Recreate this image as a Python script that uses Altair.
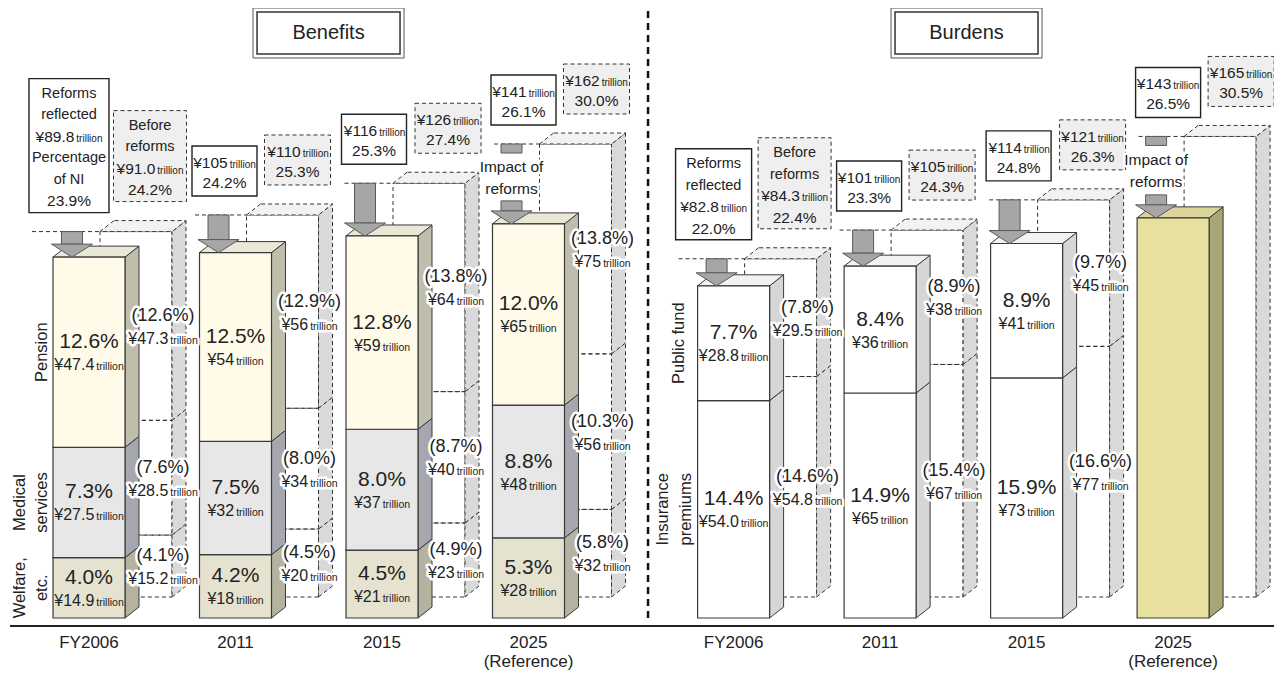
import altair as alt
import pandas as pd

# ---------------- data ----------------
years = ["FY2006", "2011", "2015", "2025"]
year_note = ["", "", "", "(Reference)"]

# Benefits, reforms reflected (% of NI, trillion yen)
ben_welfare_pct = [4.0, 4.2, 4.5, 5.3]
ben_welfare_yen = [14.9, 18, 21, 28]
ben_medical_pct = [7.3, 7.5, 8.0, 8.8]
ben_medical_yen = [27.5, 32, 37, 48]
ben_pension_pct = [12.6, 12.5, 12.8, 12.0]
ben_pension_yen = [47.4, 54, 59, 65]
ben_total_pct = [23.9, 24.2, 25.3, 26.1]
ben_total_yen = [89.8, 105, 116, 141]
# Benefits, before reforms
ben_pre_welfare_pct = [4.1, 4.5, 4.9, 5.8]
ben_pre_welfare_yen = [15.2, 20, 23, 32]
ben_pre_medical_pct = [7.6, 8.0, 8.7, 10.3]
ben_pre_medical_yen = [28.5, 34, 40, 56]
ben_pre_pension_pct = [12.6, 12.9, 13.8, 13.8]
ben_pre_pension_yen = [47.3, 56, 64, 75]
ben_pre_total_pct = [24.2, 25.3, 27.4, 30.0]
ben_pre_total_yen = [91.0, 110, 126, 162]
# Burdens, reforms reflected
bur_premium_pct = [14.4, 14.9, 15.9, None]
bur_premium_yen = [54.0, 65, 73, None]
bur_public_pct = [7.7, 8.4, 8.9, None]
bur_public_yen = [28.8, 36, 41, None]
bur_total_pct = [22.0, 23.3, 24.8, 26.5]
bur_total_yen = [82.8, 101, 114, 143]
# Burdens, before reforms
bur_pre_premium_pct = [14.6, 15.4, 16.6, None]
bur_pre_premium_yen = [54.8, 67, 77, None]
bur_pre_public_pct = [7.8, 8.9, 9.7, None]
bur_pre_public_yen = [29.5, 38, 45, None]
bur_pre_total_pct = [22.4, 24.3, 26.3, 30.5]
bur_pre_total_yen = [84.3, 105, 121, 165]

panels = [
    dict(title="Benefits", pos=[0, 1, 2, 3], title_pos=1.635,
         style=["welfare", "medical", "pension"],
         pct=[ben_welfare_pct, ben_medical_pct, ben_pension_pct],
         yen=[ben_welfare_yen, ben_medical_yen, ben_pension_yen],
         pre_pct=[ben_pre_welfare_pct, ben_pre_medical_pct, ben_pre_pension_pct],
         pre_yen=[ben_pre_welfare_yen, ben_pre_medical_yen, ben_pre_pension_yen],
         tot_pct=ben_total_pct, tot_yen=ben_total_yen,
         pre_tot_pct=ben_pre_total_pct, pre_tot_yen=ben_pre_total_yen,
         seg_names=[["Welfare,", "etc."], ["Medical", "services"], ["Pension"]],
         name_dx2=(-33, -11), name_dx1=-11,
         first_solid=["Reforms", "reflected", "YEN", "Percentage", "of NI", "PCT"],
         first_solid_w=80),
    dict(title="Burdens", pos=[4.4, 5.4, 6.4, 7.4], title_pos=5.99,
         style=["burden", "burden"],
         pct=[bur_premium_pct, bur_public_pct],
         yen=[bur_premium_yen, bur_public_yen],
         pre_pct=[bur_pre_premium_pct, bur_pre_public_pct],
         pre_yen=[bur_pre_premium_yen, bur_pre_public_yen],
         tot_pct=bur_total_pct, tot_yen=bur_total_yen,
         pre_tot_pct=bur_pre_total_pct, pre_tot_yen=bur_pre_total_yen,
         seg_names=[["Insurance", "premiums"], ["Public fund"]],
         name_dx2=(-35, -12), name_dx1=-19,
         first_solid=["Reforms", "reflected", "YEN", "PCT"],
         first_solid_w=76),
]

# ---------------- layout / style ----------------
W, H = 1266, 662
PX = 146.5   # pixels per category step
PY = 15.1    # pixels per 1 % of NI


def hx(p):
    return p / PX


def hy(p):
    return p / PY


XMIN = -81 / PX
XMAX = XMIN + W / PX
YMAX = 610 / PY
YMIN = YMAX - H / PY

SANS = "Liberation Sans, Arial, Helvetica, sans-serif"
TXT = "#222222"
EDGE = "#3a3a3a"

STYLE = {
    "welfare": ("#E5E2CF", "#B5B39F", "#E8E6D4"),
    "medical": ("#E7E7E7", "#A6A6AE", "#EEEEEE"),
    "pension": ("#FFFBE8", "#BFBEAD", "#E9E7D5"),
    "burden": ("#FFFFFF", "#D6D6D6", "#F2F2F2"),
    "highlight": ("#E8E09E", "#A9A676", "#DBD49B"),
}
GHOST_SIDE = "#D9D9D9"
GHOST_TOP = "#F2F2F2"

BAR_HALF = 36      # px
DEPTH_X, DEPTH_Y = 14, 11
GHOST_X, GHOST_Y = 47, 21
solid_dx = [-20, -11, -8, -5]
pre_dx = [61, 62, 66, 68]

W_CH = {"¥": .556, ".": .278, "%": .889, "(": .333, ")": .333}
TRIL_EM = 2.611

rows = {k: [] for k in ["front", "side", "top", "gfront", "gside", "gtop", "gline",
                        "shaft", "head", "bsolid", "bdash", "tbox_out", "tbox_in",
                        "divider", "axis"]}
txt = {k: [] for k in ["c", "r", "ln", "hc", "hr", "hln", "rot", "title", "year"]}


def yen_str(v, k):
    return "¥" + (f"{v:.1f}" if k == 0 else f"{v:.0f}")


def text_w(s, size):
    return sum(W_CH.get(ch, .556) for ch in s) * size


def add_yen(x, y, v, k, sn, st, halo=False):
    s = yen_str(v, k)
    wn = text_w(s, sn)
    wt = TRIL_EM * st
    gap = 2.0
    left = x - hx((wn + gap + wt) / 2)
    split = left + hx(wn)
    txt["hr" if halo else "r"].append(dict(x=split, y=y, text=s, size=sn))
    txt["hln" if halo else "ln"].append(dict(x=split + hx(gap), y=y, text="trillion", size=st))


def add_box(kind, cx, bottom, width, lines, v_yen, v_pct, k):
    n = len(lines)
    hpx = 50 if n == 2 else n * 21.5 + 5
    top = bottom + hy(hpx)
    rows[kind].append(dict(x=cx - hx(width / 2), x2=cx + hx(width / 2), y=bottom, y2=top))
    mid = (top + bottom) / 2 - hy(2)
    sp = 20 if n == 2 else 21.5
    for i, ln in enumerate(lines):
        yy = mid - hy((i - (n - 1) / 2) * sp)
        if ln == "YEN":
            add_yen(cx, yy, v_yen, k, 15.5, 10)
        elif ln == "PCT":
            txt["c"].append(dict(x=cx, y=yy, text=f"{v_pct:.1f}%", size=15.5))
        else:
            txt["c"].append(dict(x=cx, y=yy, text=ln, size=14.5))
    return cx - hx(width / 2)


for pi, p in enumerate(panels):
    # title box
    tc, ty = p["title_pos"], hy(585)
    rows["tbox_out"].append(dict(x=tc - hx(75.5), x2=tc + hx(75.5), y=ty - hy(25), y2=ty + hy(25)))
    rows["tbox_in"].append(dict(x=tc - hx(71.5), x2=tc + hx(71.5), y=ty - hy(21), y2=ty + hy(21)))
    txt["title"].append(dict(x=tc, y=ty, text=p["title"], size=20))

    for k, c in enumerate(p["pos"]):
        L, R = c - hx(BAR_HALF), c + hx(BAR_HALF)
        nseg = len(p["pct"])
        has = p["pct"][0][k] is not None

        # ---------- ghost (before reforms) ----------
        gb = hy(GHOST_Y)
        gL, gR = L + hx(GHOST_X), R + hx(GHOST_X)
        if has:
            gsegs = [(p["pre_pct"][j][k], p["pre_yen"][j][k]) for j in range(nseg)]
        else:
            gsegs = [(p["pre_tot_pct"][k], None)]
        base = gb
        for j, (pc, yv) in enumerate(gsegs):
            y0, y1 = base, base + pc
            if j == len(gsegs) - 1:
                y1 = gb + p["pre_tot_pct"][k]
            gid = f"g{pi}{k}{j}"
            rows["gfront"].append(dict(x=gL, x2=gR, y=y0, y2=y1))
            rows["gside"].append(dict(g=gid, x=gR, y=y0, y2=y1, fill=GHOST_SIDE))
            rows["gside"].append(dict(g=gid, x=gR + hx(DEPTH_X), y=y0 + hy(DEPTH_Y),
                                      y2=y1 + hy(DEPTH_Y), fill=GHOST_SIDE))
            if yv is not None:
                m = (y0 + y1) / 2
                lx = c + hx(74)
                txt["hc"].append(dict(x=lx, y=m + hy(10), text=f"({pc:.1f}%)", size=18))
                add_yen(lx, m - hy(13), yv, k, 16, 10.5, halo=True)
            base = y1
        gtop = gb + p["pre_tot_pct"][k]
        gid = f"gt{pi}{k}"
        rows["gtop"].append(dict(g=gid, y=gtop, x=gL, x2=gR, fill=GHOST_TOP))
        rows["gtop"].append(dict(g=gid, y=gtop + hy(DEPTH_Y), x=gL + hx(DEPTH_X),
                                 x2=gR + hx(DEPTH_X), fill=GHOST_TOP))

        # ---------- main bar ----------
        if has:
            segs = [(p["pct"][j][k], p["yen"][j][k], p["style"][j]) for j in range(nseg)]
        else:
            segs = [(p["tot_pct"][k], None, "highlight")]
        base = 0.0
        for j, (pc, yv, st) in enumerate(segs):
            y0, y1 = base, base + pc
            if j == len(segs) - 1:
                y1 = p["tot_pct"][k]
            fr, sd, tp = STYLE[st]
            gid = f"m{pi}{k}{j}"
            rows["front"].append(dict(x=L, x2=R, y=y0, y2=y1, fill=fr))
            rows["side"].append(dict(g=gid, x=R, y=y0, y2=y1, fill=sd))
            rows["side"].append(dict(g=gid, x=R + hx(DEPTH_X), y=y0 + hy(DEPTH_Y),
                                     y2=y1 + hy(DEPTH_Y), fill=sd))
            m = (y0 + y1) / 2
            if yv is not None:
                txt["c"].append(dict(x=c, y=m + hy(10), text=f"{pc:.1f}%", size=21))
                add_yen(c, m - hy(13), yv, k, 16, 10.5)
            if k == 0 and has:
                names = p["seg_names"][j]
                if len(names) == 2:
                    for nm, dx in zip(names, p["name_dx2"]):
                        txt["rot"].append(dict(x=L + hx(dx), y=m, text=nm, size=16.5))
                else:
                    txt["rot"].append(dict(x=L + hx(p["name_dx1"]), y=m, text=names[0], size=16.5))
            base = y1
            last_top = STYLE[st][2]
        top = p["tot_pct"][k]
        gid = f"t{pi}{k}"
        rows["top"].append(dict(g=gid, y=top, x=L, x2=R, fill=last_top))
        rows["top"].append(dict(g=gid, y=top + hy(DEPTH_Y), x=L + hx(DEPTH_X),
                                x2=R + hx(DEPTH_X), fill=last_top))

        # ---------- labels boxes ----------
        sb = gtop + hy(19)
        db = gtop + hy(30)
        if k == 0:
            sl = p["first_solid"]
            sw = p["first_solid_w"]
            dl = ["Before", "reforms", "YEN", "PCT"]
            dw = 73
        else:
            sl = ["YEN", "PCT"]
            sw = 65
            dl = ["YEN", "PCT"]
            dw = 66
        box_left = add_box("bsolid", c + hx(solid_dx[k]), sb, sw, sl,
                           p["tot_yen"][k], p["tot_pct"][k], k)
        add_box("bdash", c + hx(pre_dx[k]), db, dw, dl,
                p["pre_tot_yen"][k], p["pre_tot_pct"][k], k)
        rows["gline"].append(dict(x=box_left + hx(3), x2=gL, y=gtop))

        # ---------- arrow ----------
        ac = c - hx(17)
        hb = top + hy(13)
        if k < 3:
            rows["shaft"].append(dict(x=ac - hx(10.5), x2=ac + hx(10.5), y=hb, y2=gtop))
        else:
            rows["shaft"].append(dict(x=ac - hx(10.5), x2=ac + hx(10.5), y=gtop - hy(9), y2=gtop))
            rows["shaft"].append(dict(x=ac - hx(10.5), x2=ac + hx(10.5), y=hb, y2=hb + hy(10)))
            mid = (gtop + top) / 2
            txt["hc"].append(dict(x=ac, y=mid + hy(17), text="Impact of", size=15.5))
            txt["hc"].append(dict(x=ac, y=mid - hy(5), text="reforms", size=15.5))
        gid = f"a{pi}{k}"
        rows["head"].append(dict(g=gid, x=ac - hx(20.5), y=hb, y2=hb))
        rows["head"].append(dict(g=gid, x=ac, y=top, y2=hb))
        rows["head"].append(dict(g=gid, x=ac + hx(20.5), y=hb, y2=hb))

        # ---------- category labels ----------
        txt["year"].append(dict(x=c, y=-hy(25), text=years[k], size=17))
        if year_note[k]:
            txt["year"].append(dict(x=c, y=-hy(44), text=year_note[k], size=17))

rows["divider"].append(dict(x=3.816, y=0.0, y2=hy(612)))
rows["axis"].append(dict(x=XMIN + hx(2), x2=XMAX, y=-hy(8)))

# ---------------- chart ----------------
xs = alt.Scale(domain=[XMIN, XMAX], nice=False, zero=False)
ys = alt.Scale(domain=[YMIN, YMAX], nice=False, zero=False)


def EX(f="x"):
    return alt.X(f"{f}:Q", scale=xs, axis=None, stack=None)


def EY(f="y"):
    return alt.Y(f"{f}:Q", scale=ys, axis=None, stack=None)


def df(key):
    return pd.DataFrame(rows[key])


def rect(key, color_field=False, **mk):
    enc = dict(x=EX(), x2=alt.X2("x2"), y=EY(), y2=alt.Y2("y2"))
    if color_field:
        enc["color"] = alt.Color("fill:N", scale=None, legend=None)
    return alt.Chart(df(key)).mark_rect(**mk).encode(**enc)


def varea(key, **mk):
    return alt.Chart(df(key)).mark_area(orient="vertical", **mk).encode(
        x=EX(), y=EY(), y2=alt.Y2("y2"), detail="g:N",
        color=alt.Color("fill:N", scale=None, legend=None))


def harea(key, **mk):
    return alt.Chart(df(key)).mark_area(orient="horizontal", **mk).encode(
        y=EY(), x=EX(), x2=alt.X2("x2"), detail="g:N",
        color=alt.Color("fill:N", scale=None, legend=None))


def text_layers(key, align, font, halo=False, angle=None, dy=0):
    if not txt[key]:
        return []
    d = pd.DataFrame(txt[key])
    enc = dict(x=EX(), y=EY(), text="text:N",
               size=alt.Size("size:Q", scale=None, legend=None))
    kw = dict(align=align, baseline="middle", font=font)
    if angle is not None:
        kw["angle"] = angle
    if dy:
        kw["dy"] = dy
    out = []
    if halo:
        out.append(alt.Chart(d).mark_text(color="white", stroke="white", strokeWidth=5,
                                          strokeJoin="round", **kw).encode(**enc))
    out.append(alt.Chart(d).mark_text(color=TXT, **kw).encode(**enc))
    return out


DASH = [4, 3]
layers = [
    rect("tbox_out", fill="white", stroke="#555555", strokeWidth=1),
    rect("tbox_in", fill="white", stroke="#333333", strokeWidth=1.5),
    alt.Chart(df("divider")).mark_rule(color="#111111", strokeWidth=2.5, strokeDash=[7, 5]).encode(
        x=EX(), y=EY(), y2=alt.Y2("y2")),
    alt.Chart(df("axis")).mark_rule(color="#222222", strokeWidth=2).encode(
        x=EX(), x2=alt.X2("x2"), y=EY()),
    # ghost bars (before reforms)
    rect("gfront", fillOpacity=0, stroke="#333333", strokeWidth=1, strokeDash=DASH),
    varea("gside", stroke="#333333", strokeWidth=1, strokeDash=DASH, opacity=1),
    harea("gtop", stroke="#333333", strokeWidth=1, strokeDash=DASH, opacity=1),
    alt.Chart(df("gline")).mark_rule(color="#333333", strokeWidth=1, strokeDash=DASH).encode(
        x=EX(), x2=alt.X2("x2"), y=EY()),
    # main bars
    varea("side", stroke=EDGE, strokeWidth=1, opacity=1),
    harea("top", stroke=EDGE, strokeWidth=1, opacity=1),
    rect("front", color_field=True, stroke=EDGE, strokeWidth=1.2, opacity=1),
    # arrows
    rect("shaft", fill="#A6A6A6", stroke="#5a5a5a", strokeWidth=1),
    alt.Chart(df("head")).mark_area(orient="vertical", color="#A6A6A6", stroke="#5a5a5a",
                                    strokeWidth=1, opacity=1).encode(
        x=EX(), y=EY(), y2=alt.Y2("y2"), detail="g:N"),
    # value boxes
    rect("bsolid", fill="white", stroke="#222222", strokeWidth=1.4),
    rect("bdash", fill="#EFEFEF", stroke="#333333", strokeWidth=1, strokeDash=DASH),
]
layers += text_layers("title", "center", SANS)
layers += text_layers("year", "center", SANS)
layers += text_layers("rot", "center", SANS, angle=270)
layers += text_layers("c", "center", SANS)
layers += text_layers("r", "right", SANS)
layers += text_layers("ln", "left", SANS, dy=2)
layers += text_layers("hc", "center", SANS, halo=True)
layers += text_layers("hr", "right", SANS, halo=True)
layers += text_layers("hln", "left", SANS, halo=True, dy=2)

chart = alt.layer(*layers).properties(
    width=W, height=H, padding=0, autosize=alt.AutoSizeParams(type="none")
).configure_view(stroke="transparent")

chart.save("out.html", embed_options={"renderer": "svg", "actions": False})
